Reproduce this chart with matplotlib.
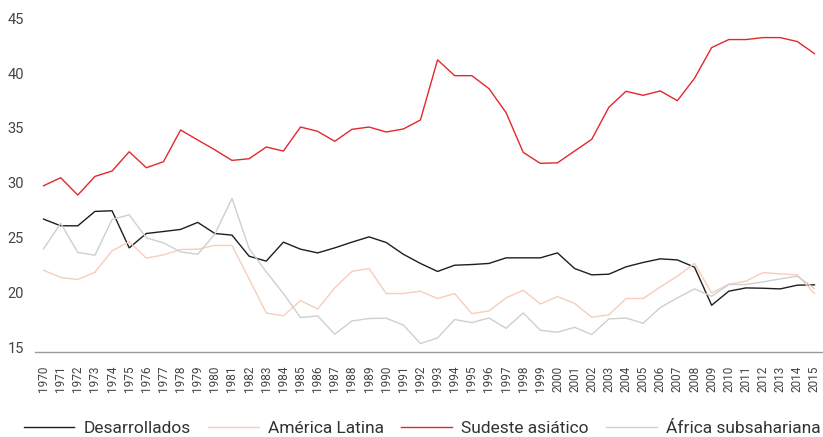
import matplotlib
matplotlib.use('Agg')
import matplotlib.pyplot as plt

years = list(range(1970, 2016))

desarrollados = [26.69, 26.08, 26.08, 27.39, 27.45, 24.07, 25.38, 25.56, 25.75, 26.39,
                 25.38, 25.23, 23.31, 22.86, 24.59, 23.95, 23.61, 24.07, 24.59, 25.07,
                 24.56, 23.49, 22.65, 21.92, 22.49, 22.55, 22.65, 23.16, 23.16, 23.16,
                 23.61, 22.19, 21.61, 21.67, 22.34, 22.74, 23.07, 22.97, 22.31, 18.84,
                 20.12, 20.42, 20.39, 20.33, 20.67, 20.70]

america_latina = [22.03, 21.37, 21.19, 21.85, 23.80, 24.62, 23.13, 23.43, 23.92, 23.95,
                  24.29, 24.29, 21.24, 18.14, 17.87, 19.27, 18.50, 20.42, 21.92, 22.19,
                  19.91, 19.91, 20.12, 19.45, 19.91, 18.08, 18.32, 19.51, 20.21, 18.96,
                  19.63, 19.00, 17.75, 17.96, 19.45, 19.45, 20.51, 21.49, 22.65, 19.96,
                  20.76, 21.03, 21.82, 21.70, 21.61, 19.91]

sudeste_asiatico = [29.73, 30.46, 28.88, 30.58, 31.07, 32.83, 31.37, 31.92, 34.81, 33.90,
                    33.00, 32.04, 32.19, 33.26, 32.89, 35.08, 34.69, 33.78, 34.87, 35.08,
                    34.63, 34.90, 35.72, 41.20, 39.76, 39.76, 38.58, 36.39, 32.77, 31.77,
                    31.82, 32.89, 33.96, 36.88, 38.34, 37.97, 38.37, 37.48, 39.52, 42.32,
                    43.05, 43.05, 43.23, 43.23, 42.87, 41.77]

africa_subsahariana = [23.98, 26.32, 23.65, 23.40, 26.66, 27.08, 24.98, 24.53, 23.70, 23.49,
                       25.32, 28.58, 24.01, 21.88, 19.91, 17.72, 17.87, 16.20, 17.41, 17.63,
                       17.66, 17.04, 15.35, 15.86, 17.54, 17.26, 17.68, 16.74, 18.14, 16.56,
                       16.38, 16.83, 16.17, 17.59, 17.68, 17.20, 18.63, 19.51, 20.33, 19.66,
                       20.73, 20.73, 20.97, 21.24, 21.49, 20.36]

plt.rcParams['font.family'] = ['Roboto', 'DejaVu Sans']

fig = plt.figure(figsize=(8.23, 4.37), dpi=100)
ax = fig.add_axes([0.0425, 0.195, 0.9575, 0.7785])

ax.plot(years, desarrollados, color='#1e1e1e', linewidth=1.0, label='Desarrollados')
ax.plot(years, america_latina, color='#f8cdb9', linewidth=1.0, label='América Latina')
ax.plot(years, sudeste_asiatico, color='#e4272c', linewidth=1.0, label='Sudeste asiático')
ax.plot(years, africa_subsahariana, color='#cfcfcf', linewidth=1.0, label='África subsahariana')

ax.set_xlim(1969.5, 2015.5)
ax.set_ylim(14.6, 45.6)
ax.set_yticks([15, 20, 25, 30, 35, 40, 45])
ax.set_xticks(years)
ax.set_xticklabels([str(y) for y in years], rotation=90, fontsize=8.5, color='#444444')
ax.tick_params(axis='y', length=0, pad=8, labelsize=10.5, labelcolor='#444444')
ax.tick_params(axis='x', length=0, pad=10)

for s in ['top', 'right', 'left']:
    ax.spines[s].set_visible(False)
ax.spines['bottom'].set_color('#999999')
ax.spines['bottom'].set_linewidth(1.0)

fig.legend(loc='lower center', bbox_to_anchor=(0.513, -0.033), ncol=4, frameon=False,
           fontsize=12.5, handlelength=2.9, handletextpad=0.55, columnspacing=1.0,
           labelcolor='#333333')

plt.savefig('out.png', dpi=100)
